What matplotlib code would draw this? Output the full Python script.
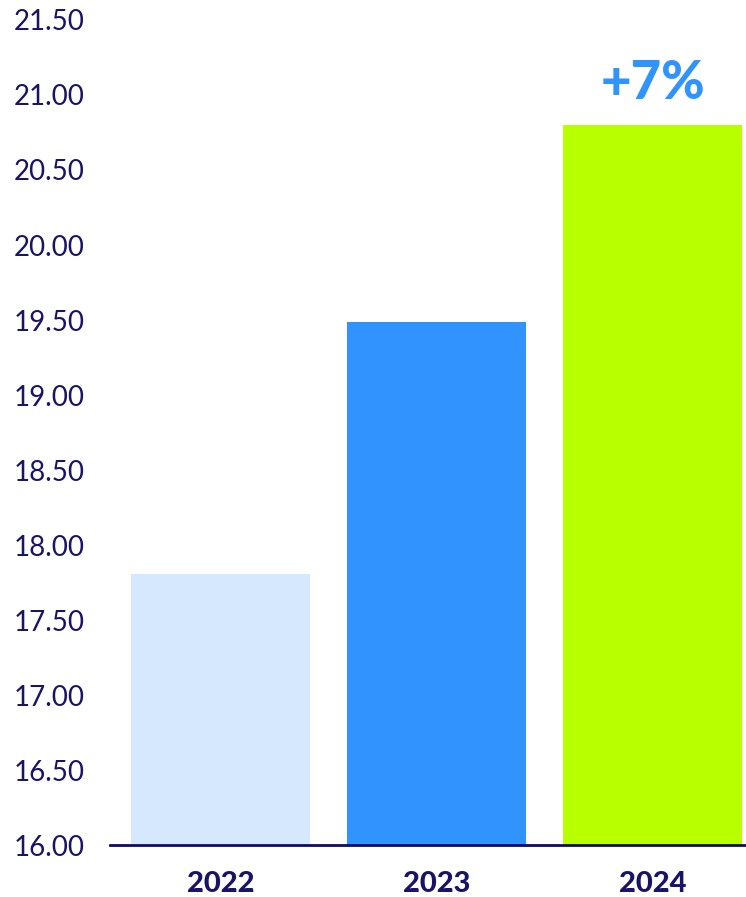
import matplotlib
matplotlib.use("Agg")
import matplotlib.pyplot as plt
from matplotlib.ticker import FixedLocator, FuncFormatter

# Data
years = ["2022", "2023", "2024"]
values = [17.81, 19.49, 20.80]
bar_colors = ["#d6e8fd", "#3093fe", "#b8ff00"]
y_ticks = [16.0, 16.5, 17.0, 17.5, 18.0, 18.5, 19.0, 19.5, 20.0, 20.5, 21.0, 21.5]
growth_label = "+7%"

navy = "#1a1466"

fig = plt.figure(figsize=(7.46, 8.97), dpi=100)
ax = fig.add_axes([110 / 746, 52 / 897, 636 / 746, 825 / 897])

x = list(range(len(years)))
ax.bar(x, values, width=0.829, color=bar_colors, zorder=2)

ax.set_ylim(16.0, 21.5)
ax.set_xlim(-0.5116, 2.433)

ax.yaxis.set_major_locator(FixedLocator(y_ticks))
ax.yaxis.set_major_formatter(FuncFormatter(lambda v, p: f"{v:.2f}"))
ax.tick_params(axis="y", length=0, pad=18, labelsize=20, labelcolor=navy)
for lbl in ax.get_yticklabels():
    lbl.set_fontfamily("Lato")
    lbl.set_fontweight("normal")

ax.set_xticks(x)
ax.set_xticklabels(years, fontfamily="Lato", fontweight="black", fontsize=21, color=navy)
ax.tick_params(axis="x", length=0, pad=19)

for side in ["top", "right", "left"]:
    ax.spines[side].set_visible(False)
ax.spines["bottom"].set_color("#0f0a6b")
ax.spines["bottom"].set_linewidth(2)
ax.spines["bottom"].set_zorder(3)

# Growth annotation above the latest bar
ax.annotate(growth_label, xy=(2, values[2]), xytext=(0, 30), textcoords="offset points",
            ha="center", va="center", fontsize=38, fontweight="black",
            fontfamily="Lato", color="#3093fe")

fig.savefig("out.png", dpi=100)
